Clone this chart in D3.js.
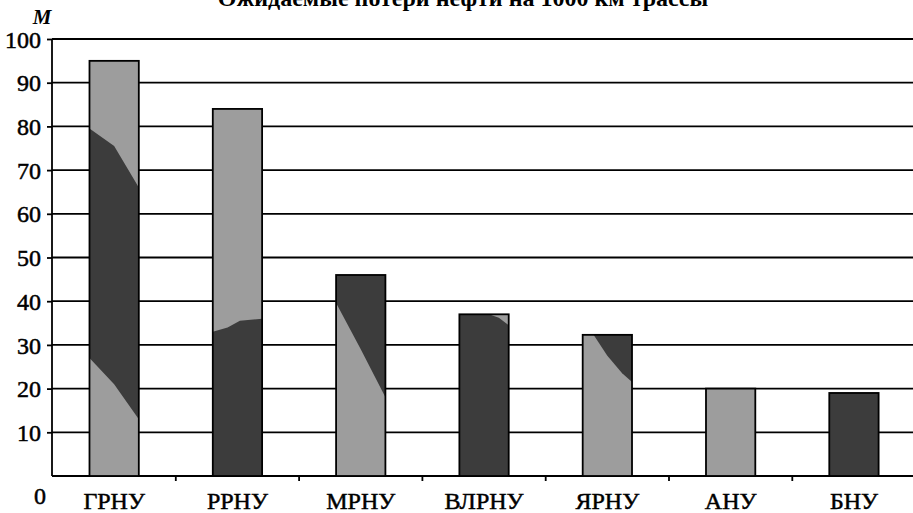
<!DOCTYPE html>
<html>
<head>
<meta charset="utf-8">
<script src="https://cdn.jsdelivr.net/npm/d3@7"></script>
<style>
	html, body { margin: 0; padding: 0; background: #fff; }
	svg { display: block; }
	text { font-family: "Liberation Serif", "Times New Roman", serif; fill: #000; }
	.lbl { stroke: #000; stroke-width: 0.5px; }
</style>
</head>
<body>
<div id="graphic"></div>
<script>

///////////////////////////////////////////////////////////////////////
// data

const categories = [ "ГРНУ", "РРНУ", "МРНУ", "ВЛРНУ", "ЯРНУ", "АНУ", "БНУ" ];
const values = [ 95, 84, 46, 37, 32.3, 20, 19 ];
const yTicks = [ 10, 20, 30, 40, 50, 60, 70, 80, 90, 100 ];

// base tone of each bar (the scan shows two grey tones)
const baseTone = [ "light", "light", "light", "dark", "light", "light", "dark" ];

// patches of the other tone: [ fraction across bar, value ]
const patches = [
	{ tone: "dark", pts: [ [0,79.5], [0.5,75.5], [1,66], [1,13], [0.5,21], [0,27] ] },
	{ tone: "dark", pts: [ [0,33], [0.3,34], [0.55,35.5], [1,36], [1,0], [0,0] ] },
	{ tone: "dark", pts: [ [0,46], [1,46], [1,18], [0.5,29], [0,39.6] ] },
	{ tone: "light", pts: [ [0.6,37], [1,37], [1,34.5], [0.8,36.2] ] },
	{ tone: "dark", pts: [ [0.22,32.3], [1,32.3], [1,21.5], [0.8,23.5], [0.5,27.5] ] },
	null,
	null
];

const title = "Ожидаемые потери нефти на 1000 км трассы";

///////////////////////////////////////////////////////////////////////

const width = 913, height = 513;
const tones = { light: "#9d9d9d", dark: "#3c3c3c" };

let svg = d3.select( "#graphic" )
	.append( "svg" )
		.attr( "width", width )
		.attr( "height", height );

let x = d3.scaleBand()
	.domain( categories )
	.range( [ 52.5, 915.6 ] )
	.paddingInner( 0.6 )
	.paddingOuter( 0.3 );

let y = d3.scaleLinear()
	.domain( [ 0, 100 ] )
	.range( [ 476, 39 ] );

// grid lines
svg.append( "g" )
	.selectAll( "line" )
	.data( yTicks )
	.join( "line" )
		.attr( "x1", 52 )
		.attr( "x2", width )
		.attr( "y1", d => y( d ) )
		.attr( "y2", d => y( d ) )
		.attr( "stroke", "#000" )
		.attr( "stroke-width", 1.8 );

// y axis
let yAxis = svg.append( "g" )
	.attr( "transform", "translate(52,0)" )
	.call( d3.axisLeft( y ).tickValues( yTicks ).tickSize( 5 ).tickPadding( 6 ) );
yAxis.attr( "font-family", null ).attr( "font-size", null );
yAxis.select( ".domain" ).attr( "stroke-width", 1.8 ).attr( "d", `M0,${y(0)}V${y(100)}` );
yAxis.selectAll( ".tick line" ).attr( "stroke-width", 1.8 );
yAxis.selectAll( ".tick text" )
	.attr( "class", "lbl" )
	.attr( "font-size", 24 )
	.attr( "dy", "0.34em" );

// the zero label sits below the axis in the original
svg.append( "text" )
	.attr( "class", "lbl" )
	.attr( "x", 46 )
	.attr( "y", y( 0 ) + 28 )
	.attr( "text-anchor", "end" )
	.attr( "font-size", 24 )
	.text( "0" );

// x axis: ticks between categories
let bandStep = x.step();
let xBounds = categories.slice( 0, -1 ).map( ( c ) => x( c ) + x.bandwidth() / 2 + bandStep / 2 );

svg.append( "line" )
	.attr( "x1", 52 )
	.attr( "x2", width )
	.attr( "y1", y( 0 ) )
	.attr( "y2", y( 0 ) )
	.attr( "stroke", "#000" )
	.attr( "stroke-width", 1.8 );

svg.append( "g" )
	.selectAll( "line" )
	.data( xBounds )
	.join( "line" )
		.attr( "x1", d => d )
		.attr( "x2", d => d )
		.attr( "y1", y( 0 ) )
		.attr( "y2", y( 0 ) + 5 )
		.attr( "stroke", "#000" )
		.attr( "stroke-width", 1.8 );

svg.append( "g" )
	.selectAll( "text" )
	.data( categories )
	.join( "text" )
		.attr( "class", "lbl" )
		.attr( "x", d => x( d ) + x.bandwidth() / 2 )
		.attr( "y", 509 )
		.attr( "text-anchor", "middle" )
		.attr( "font-size", 24 )
		.text( d => d );

// bars
let bars = svg.append( "g" )
	.selectAll( "g" )
	.data( categories.map( ( c, i ) => ( { c, v: values[ i ], tone: baseTone[ i ], patch: patches[ i ] } ) ) )
	.join( "g" );

bars.append( "rect" )
	.attr( "x", d => x( d.c ) )
	.attr( "y", d => y( d.v ) )
	.attr( "width", x.bandwidth() )
	.attr( "height", d => y( 0 ) - y( d.v ) )
	.attr( "fill", d => tones[ d.tone ] );

let line = d3.line();

bars.filter( d => d.patch )
	.append( "path" )
		.attr( "d", d => line( d.patch.pts.map( p => [ x( d.c ) + p[ 0 ] * x.bandwidth(), y( p[ 1 ] ) ] ) ) + "Z" )
		.attr( "fill", d => tones[ d.patch.tone ] );

bars.append( "rect" )
	.attr( "x", d => x( d.c ) )
	.attr( "y", d => y( d.v ) )
	.attr( "width", x.bandwidth() )
	.attr( "height", d => y( 0 ) - y( d.v ) )
	.attr( "fill", "none" )
	.attr( "stroke", "#000" )
	.attr( "stroke-width", 1.8 );

// axis name and title
svg.append( "text" )
	.attr( "x", 42 )
	.attr( "y", 24 )
	.attr( "text-anchor", "middle" )
	.attr( "font-size", 21 )
	.attr( "font-style", "italic" )
	.attr( "font-weight", "bold" )
	.text( "M" );

svg.append( "text" )
	.attr( "x", 463 )
	.attr( "y", 6 )
	.attr( "text-anchor", "middle" )
	.attr( "font-size", 24 )
	.attr( "font-weight", "bold" )
	.text( title );

</script>
</body>
</html>
